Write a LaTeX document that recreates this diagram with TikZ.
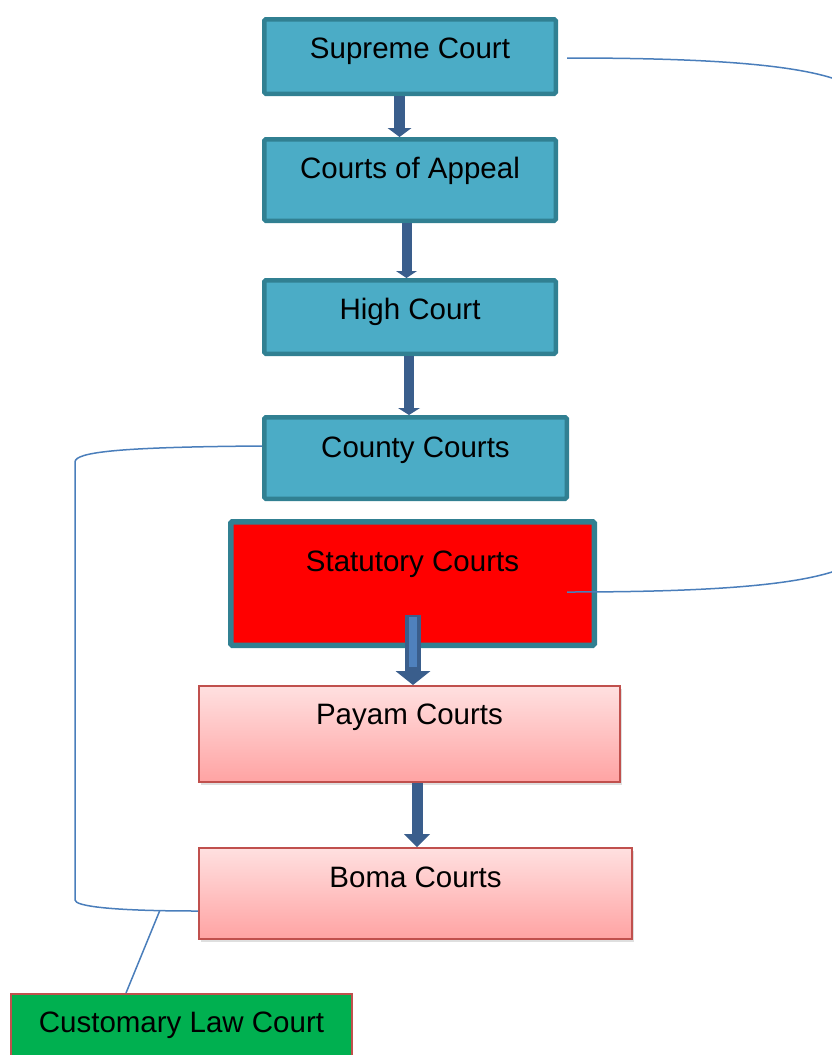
\documentclass[tikz,border=0pt]{standalone}
\usepackage{fontspec}
\setmainfont{Liberation Sans}
\usetikzlibrary{arrows.meta,shadows}

\definecolor{tealfill}{RGB}{75,172,198}
\definecolor{tealline}{RGB}{49,128,146}
\definecolor{pinkline}{RGB}{192,80,77}
\definecolor{pinktop}{RGB}{255,224,224}
\definecolor{pinkbot}{RGB}{255,163,163}
\definecolor{custgreen}{RGB}{0,176,80}
\definecolor{arrowblue}{RGB}{58,94,140}
\definecolor{arrowlight}{RGB}{79,129,189}
\definecolor{linkblue}{RGB}{74,126,187}

\begin{document}
\begin{tikzpicture}[x=1pt, y=-1pt, font=\fontsize{29.5}{35}\selectfont,
  court/.style={draw=tealline, fill=tealfill, line width=4.5pt, rounded corners=1.5pt,
    anchor=north west, inner ysep=0pt, text height=38.75pt},
  lower/.style={draw=pinkline, top color=pinktop, bottom color=pinkbot, line width=2pt,
    anchor=north west, inner ysep=0pt, text height=38.5pt,
    drop shadow={shadow xshift=1.5pt, shadow yshift=-3pt, opacity=0.25}},
  down/.style={color=arrowblue, line width=10pt},
  link/.style={draw=linkblue, line width=1.5pt}]
  \useasboundingbox (0,0) rectangle (832,1055);
  \clip (0,0) rectangle (832,1055);

  \node[court, minimum width=291.5pt, text depth=35.75pt] (sup) at (262,17) {Supreme Court};
  \node[court, minimum width=291.5pt, text depth=42.75pt] (app) at (262,137) {Courts of Appeal};
  \node[court, minimum width=291.5pt, text depth=34.75pt] (high) at (262,278) {High Court};
  \node[court, minimum width=302.5pt, text height=40.25pt, text depth=41.25pt] (county) at (262,415) {County Courts};
  \node[court, fill=red, line width=5.5pt, minimum width=363.5pt, text height=50pt, text depth=73.5pt] (stat) at (228,519) {Statutory Courts};
  \node[lower, minimum width=421pt, text depth=57.5pt] (payam) at (198,685) {Payam Courts};
  \node[lower, minimum width=433pt, text height=39.5pt, text depth=51.5pt] (boma) at (198,847) {Boma Courts};
  \node[draw=pinkline, fill=custgreen, line width=2pt, anchor=north west, inner ysep=0pt,
    text height=38.5pt, minimum width=341pt, text depth=41.5pt] (cust) at (10,993) {Customary Law Court};

  \path[down]
  ([xshift=-10.5pt]sup.south) edge[line width=11pt, -{Triangle[width=24pt, length=9pt, line width=0pt]}] ([xshift=-10.5pt]app.north)
  ([xshift=-3.5pt]app.south) edge[-{Triangle[width=21pt, length=7pt, line width=0pt]}] ([xshift=-3.5pt]high.north)
  ([xshift=-1pt]high.south) edge[-{Triangle[width=22pt, length=7pt, line width=0pt]}] ([xshift=-6.5pt]county.north)
  ([xshift=7.5pt]payam.south) edge[line width=11pt, -{Triangle[width=26pt, length=13pt, line width=0pt]}] ([xshift=1.5pt]boma.north);
  \draw[down, line width=16pt, -{Triangle[width=35pt, length=14pt, line width=0pt]}]
    ([xshift=0.5pt, yshift=33pt]stat.south) -- ([xshift=3.5pt]payam.north);
  \draw[draw=arrowlight, line width=8pt]
    ([xshift=0.5pt, yshift=31pt]stat.south) -- ([xshift=3.5pt, yshift=18pt]payam.north);

  % brackets
  \draw[link] ([xshift=9pt, yshift=-1.5pt]sup.east) .. controls (760,58) and (870,70) .. (870,110)
    -- (870,540) .. controls (870,580) and (760,592) .. ([xshift=-30pt, yshift=-8.5pt]stat.east);
  \draw[link] ([yshift=12pt]county.west) .. controls (120,447) and (75,452) .. (75,462)
    -- (75,900) .. controls (75,906) and (110,911) .. ([yshift=-17.5pt]boma.west) coordinate[pos=0.84] (tap);
  \draw[link] (tap) -- ([xshift=-55.5pt]cust.north);
\end{tikzpicture}
\end{document}
